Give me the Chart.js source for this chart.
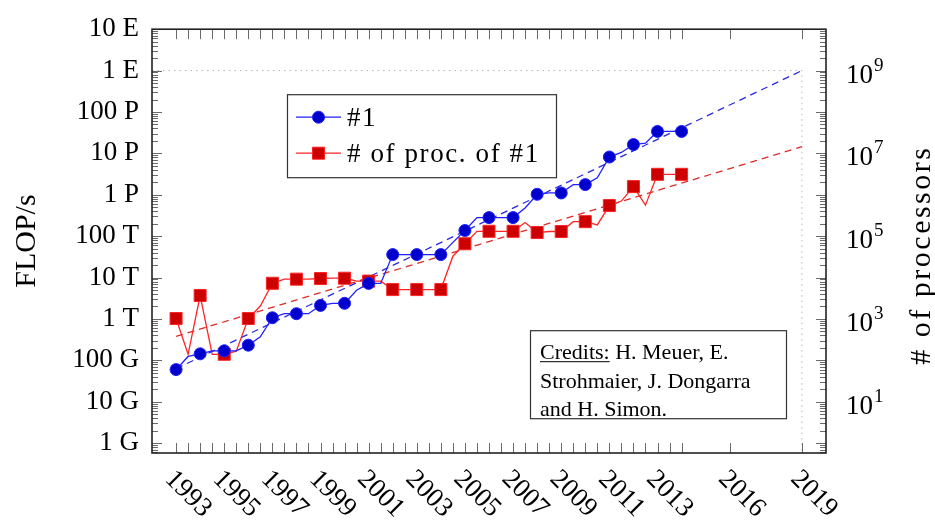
<!DOCTYPE html>
<html>
<head>
<meta charset="utf-8">
<script src="https://cdn.jsdelivr.net/npm/chart.js@4.4.1/dist/chart.umd.min.js"></script>
<style>
  html, body { margin: 0; padding: 0; background: #fff; }
</style>
</head>
<body>
<canvas id="topChart" width="935" height="521"></canvas>
<script>
// TOP500 #1 system, June and November lists
const listDates = [1993, 1993.5, 1994, 1994.5, 1995, 1995.5, 1996, 1996.5, 1997, 1997.5,
  1998, 1998.5, 1999, 1999.5, 2000, 2000.5, 2001, 2001.5, 2002, 2002.5,
  2003, 2003.5, 2004, 2004.5, 2005, 2005.5, 2006, 2006.5, 2007, 2007.5,
  2008, 2008.5, 2009, 2009.5, 2010, 2010.5, 2011, 2011.5, 2012, 2012.5,
  2013, 2013.5, 2014];
// Rmax in GFLOP/s
const rmaxGflops = [59.7, 124, 143.4, 170, 170, 170, 232.4, 368.2, 1068, 1338,
  1338, 1338, 2121, 2379, 2379, 4938, 7226, 7226, 35860, 35860,
  35860, 35860, 35860, 70720, 136800, 280600, 280600, 280600, 280600, 478200,
  1026000, 1105000, 1105000, 1759000, 1759000, 2566000, 8162000, 10510000, 16320000, 17590000,
  33860000, 33860000, 33860000];
const procsOfFirst = [1024, 140, 3680, 140, 140, 167, 1024, 2048, 7264, 9152,
  9152, 9152, 9472, 9632, 9632, 8192, 8192, 8192, 5120, 5120,
  5120, 5120, 5120, 32768, 65536, 131072, 131072, 131072, 131072, 212992,
  122400, 129600, 129600, 224162, 224162, 186368, 548352, 705024, 1572864, 560640,
  3120000, 3120000, 3120000];

// trend lines, [year, value]
const flopsTrend = [[1993, 63], [2019, 1e9]];
const procsTrend = [[1993, 378], [2019, 1.45e7]];
const exaGuide = [[1992, 1e9], [2019, 1e9], [2019, 0.577]];

const flopsTickValues = [1, 10, 100, 1e3, 1e4, 1e5, 1e6, 1e7, 1e8, 1e9, 1e10];
const flopsTickLabels = ['1 G', '10 G', '100 G', '1 T', '10 T', '100 T', '1 P', '10 P', '100 P', '1 E', '10 E'];
const procTickExponents = [1, 3, 5, 7, 9];
const yearLabels = [1993, 1995, 1997, 1999, 2001, 2003, 2005, 2007, 2009, 2011, 2013, 2016, 2019];
const extraYearTicks = [2016, 2019];

const serif = '"Liberation Serif", "Times New Roman", serif';
const blueLine = '#1f1fff', blueMark = '#0000cc';
const redLine = '#ff2424', redMark = '#cc0000';

const toPoints = (xs, ys) => xs.map((x, i) => ({x: x, y: ys[i]}));
const pairs = arr => arr.map(p => ({x: p[0], y: p[1]}));

const decor = {
  id: 'decor',
  afterDraw(chart) {
    const {ctx, chartArea: a, scales} = chart;
    const xs = scales.x, ys = scales.y, ys2 = scales.y2;
    ctx.save();

    // inward tick marks
    ctx.strokeStyle = '#6a6a6a';
    ctx.lineWidth = 1;
    ctx.beginPath();
    listDates.concat(extraYearTicks).forEach(yr => {
      const px = Math.round(xs.getPixelForValue(yr)) + 0.5;
      ctx.moveTo(px, a.bottom); ctx.lineTo(px, a.bottom - 10);
      ctx.moveTo(px, a.top); ctx.lineTo(px, a.top + 10);
    });
    for (let e = -1; e <= 10; e++) {
      for (let m = 1; m <= 9; m++) {
        const v = m * Math.pow(10, e);
        if (v < ys.min || v > ys.max) continue;
        const len = m === 1 ? 10 : 6;
        const py = Math.round(ys.getPixelForValue(v)) + 0.5;
        ctx.moveTo(a.left, py); ctx.lineTo(a.left + len, py);
        const py2 = Math.round(ys2.getPixelForValue(v)) + 0.5;
        ctx.moveTo(a.right, py2); ctx.lineTo(a.right - len, py2);
      }
    }
    ctx.stroke();

    // frame
    ctx.strokeStyle = '#222';
    ctx.lineWidth = 1.6;
    ctx.strokeRect(a.left, a.top, a.right - a.left, a.bottom - a.top);

    ctx.fillStyle = '#000';
    // rotated year labels
    ctx.font = '27px ' + serif;
    ctx.textAlign = 'center';
    ctx.textBaseline = 'middle';
    yearLabels.forEach(yr => {
      ctx.save();
      ctx.translate(xs.getPixelForValue(yr) + 12, a.bottom + 41);
      ctx.rotate(Math.PI / 4);
      ctx.fillText(String(yr), 0, 0);
      ctx.restore();
    });

    // right axis labels 10^n
    ctx.textAlign = 'left';
    ctx.textBaseline = 'alphabetic';
    procTickExponents.forEach(e => {
      const py = ys2.getPixelForValue(Math.pow(10, e));
      ctx.font = '27px ' + serif;
      ctx.fillText('10', a.right + 20, py + 12);
      const w = ctx.measureText('10').width;
      ctx.font = '19px ' + serif;
      ctx.fillText(String(e), a.right + 21 + w, py);
    });

    // axis titles
    const cy = (a.top + a.bottom) / 2;
    ctx.font = '30px ' + serif;
    ctx.textAlign = 'center';
    ctx.save();
    ctx.translate(35, cy);
    ctx.rotate(-Math.PI / 2);
    ctx.fillText('FLOP/s', 0, 0);
    ctx.restore();
    ctx.save();
    ctx.translate(a.right + 104, cy + 14);
    ctx.rotate(-Math.PI / 2);
    ctx.letterSpacing = '2.5px';
    ctx.fillText('# of processors', 0, 0);
    ctx.restore();

    // legend
    const lx = a.left + 135, ly = a.top + 65;
    ctx.fillStyle = '#fff';
    ctx.fillRect(lx, ly, 269, 83);
    ctx.strokeStyle = '#333';
    ctx.lineWidth = 1.2;
    ctx.strokeRect(lx + 0.5, ly + 0.5, 269, 83);
    const rows = [
      {y: ly + 23, line: blueLine, fill: blueMark, shape: 'circle', text: '#1'},
      {y: ly + 59, line: redLine, fill: redMark, shape: 'rect', text: '# of proc. of #1'}
    ];
    ctx.font = '27px ' + serif;
    ctx.textAlign = 'left';
    rows.forEach(r => {
      ctx.strokeStyle = r.line;
      ctx.lineWidth = 1.3;
      ctx.beginPath();
      ctx.moveTo(lx + 9, r.y); ctx.lineTo(lx + 54, r.y);
      ctx.stroke();
      ctx.fillStyle = r.fill;
      ctx.beginPath();
      if (r.shape === 'circle') ctx.arc(lx + 31.5, r.y, 6, 0, Math.PI * 2);
      else ctx.rect(lx + 25.5, r.y - 6, 12, 12);
      ctx.fill();
      ctx.lineWidth = 1;
      ctx.stroke();
      ctx.fillStyle = '#000';
      ctx.save();
      ctx.letterSpacing = '1.6px';
      ctx.fillText(r.text, lx + 60, r.y + 9);
      ctx.restore();
    });

    // credits box
    const cx = a.left + 378, cyTop = a.top + 301;
    ctx.fillStyle = '#fff';
    ctx.fillRect(cx, cyTop, 256, 88);
    ctx.strokeStyle = '#333';
    ctx.lineWidth = 1.2;
    ctx.strokeRect(cx + 0.5, cyTop + 0.5, 256, 88);
    ctx.fillStyle = '#000';
    ctx.font = '22px ' + serif;
    const lines = ['Credits: H. Meuer, E.', 'Strohmaier, J. Dongarra', 'and H. Simon.'];
    lines.forEach((t, i) => ctx.fillText(t, cx + 10, cyTop + 29 + i * 28.3));
    const uw = ctx.measureText('Credits:').width;
    ctx.strokeStyle = '#000';
    ctx.lineWidth = 1;
    ctx.beginPath();
    ctx.moveTo(cx + 10, cyTop + 31.5); ctx.lineTo(cx + 10 + uw, cyTop + 31.5);
    ctx.stroke();

    ctx.restore();
  }
};

const markEvery = r => c => (c.dataIndex % 2 === 0 ? r : 0);

new Chart(document.getElementById('topChart'), {
  type: 'line',
  data: {
    datasets: [
      {
        label: '#1',
        data: toPoints(listDates, rmaxGflops),
        yAxisID: 'y',
        borderColor: blueLine,
        borderWidth: 1.3,
        pointStyle: 'circle',
        pointRadius: markEvery(6),
        pointBackgroundColor: blueMark,
        pointBorderColor: blueLine,
        pointBorderWidth: 1
      },
      {
        label: '# of proc. of #1',
        data: toPoints(listDates, procsOfFirst),
        yAxisID: 'y2',
        borderColor: redLine,
        borderWidth: 1.3,
        pointStyle: 'rect',
        pointRadius: markEvery(8.5),
        pointBackgroundColor: redMark,
        pointBorderColor: redLine,
        pointBorderWidth: 1
      },
      {
        label: 'flops trend',
        data: pairs(flopsTrend),
        yAxisID: 'y',
        borderColor: '#2a2ae0',
        borderWidth: 1.3,
        borderDash: [7, 5],
        pointRadius: 0
      },
      {
        label: 'procs trend',
        data: pairs(procsTrend),
        yAxisID: 'y2',
        borderColor: '#e02a2a',
        borderWidth: 1.3,
        borderDash: [7, 5],
        pointRadius: 0
      },
      {
        label: 'exa guide',
        data: pairs(exaGuide),
        yAxisID: 'y',
        borderColor: '#b5b5b5',
        borderWidth: 1,
        borderDash: [1.5, 4],
        pointRadius: 0
      }
    ]
  },
  options: {
    responsive: false,
    devicePixelRatio: 1,
    animation: false,
    events: [],
    layout: { padding: { top: 24, left: 0, right: 0, bottom: 0 }, autoPadding: false },
    plugins: { legend: { display: false }, tooltip: { enabled: false } },
    scales: {
      x: {
        type: 'linear',
        min: 1992,
        max: 2020,
        grid: { display: false, drawTicks: false },
        border: { display: false },
        ticks: { display: false },
        afterFit: s => { s.height = 68; }
      },
      y: {
        type: 'logarithmic',
        position: 'left',
        min: 0.577,
        max: 1e10,
        grid: { display: false, drawTicks: false },
        border: { display: false },
        afterBuildTicks: s => { s.ticks = flopsTickValues.map(v => ({value: v})); },
        ticks: {
          autoSkip: false,
          padding: 13,
          color: '#000',
          font: { family: serif, size: 27 },
          callback: v => flopsTickLabels[flopsTickValues.indexOf(v)]
        },
        afterFit: s => { s.width = 152; }
      },
      y2: {
        type: 'logarithmic',
        position: 'right',
        min: 0.577,
        max: 1e10,
        grid: { display: false, drawTicks: false },
        border: { display: false },
        ticks: { display: false },
        afterFit: s => { s.width = 109; }
      }
    }
  },
  plugins: [decor]
});
</script>
</body>
</html>
